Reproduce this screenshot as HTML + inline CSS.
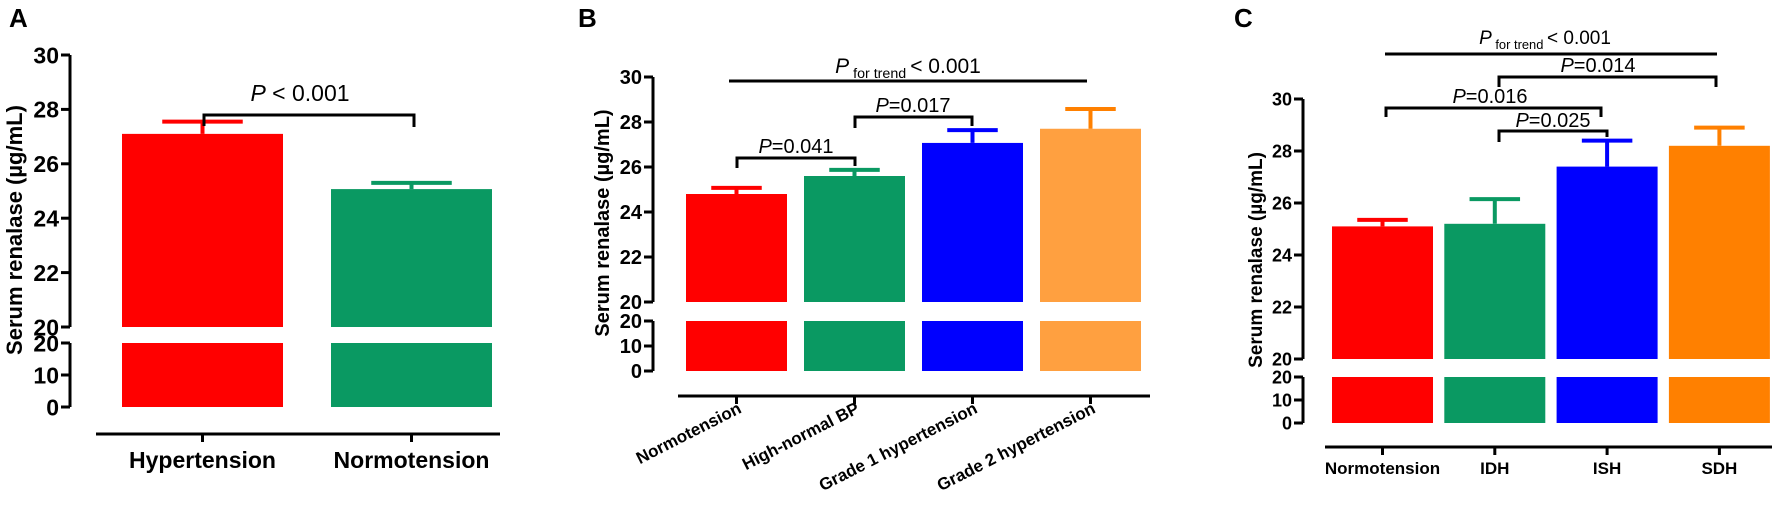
<!DOCTYPE html>
<html><head><meta charset="utf-8">
<style>
html,body{margin:0;padding:0;background:#fff;}
svg{display:block;font-family:"Liberation Sans",Arial,sans-serif;}
</style></head>
<body>
<svg id="fig" width="1772" height="511" viewBox="0 0 1772 511" xmlns="http://www.w3.org/2000/svg"></svg>
<script>
// ---- Panel A data ----
const catsA = ["Hypertension","Normotension"];
const meansA = [27.1, 25.07];
const errsA = [0.45, 0.23];
// ---- Panel B data ----
const catsB = ["Normotension","High-normal BP","Grade 1 hypertension","Grade 2 hypertension"];
const meansB = [24.8, 25.6, 27.07, 27.7];
const errsB = [0.27, 0.27, 0.57, 0.88];
// ---- Panel C data ----
const catsC = ["Normotension","IDH","ISH","SDH"];
const meansC = [25.1, 25.2, 27.4, 28.2];
const errsC = [0.25, 0.95, 1.0, 0.7];
// ---- shared tick labels ----
const upperTicks = [20,22,24,26,28,30];
const lowerTicks = [0,10,20];

const NS = "http://www.w3.org/2000/svg";
const svg = document.getElementById('fig');
function el(tag, attrs, parent){
  const e = document.createElementNS(NS, tag);
  for (const k in attrs) e.setAttribute(k, attrs[k]);
  (parent||svg).appendChild(e);
  return e;
}

function panel(cfg){
  const g = el('g', {});
  
  
  const yU = v => cfg.u20 - (v - 20) * (cfg.u20 - cfg.u30) / 10;
  const yL = v => cfg.l0 - v * (cfg.l0 - cfg.l20) / 20;
  const xC = i => cfg.x0 + cfg.bw / 2 + i * cfg.step;

  const lt = el('text', {x: cfg.letterX, y: 27, 'font-size': 26, 'font-weight': 'bold'}, g);
  lt.textContent = cfg.letter;
  
  

  // y axes
  const ax = el('path', {d: `M${cfg.ax} ${yU(30)} V${yU(20)} M${cfg.ax} ${yL(20)} V${yL(0)}`, stroke: '#000', 'stroke-width': 3, fill: 'none'}, g);
  
  
  upperTicks.forEach(t => {
    el('line', {x1: cfg.ax - 9, x2: cfg.ax, y1: yU(t), y2: yU(t), stroke: '#000', 'stroke-width': 3}, g);
    const tx = el('text', {x: cfg.ax - 11, y: yU(t) + cfg.tfs * 0.36, 'text-anchor': 'end', 'font-size': cfg.tfs, 'font-weight': 'bold'}, g);
    tx.textContent = t;
    
    
  });
  lowerTicks.forEach(t => {
    el('line', {x1: cfg.ax - 9, x2: cfg.ax, y1: yL(t), y2: yL(t), stroke: '#000', 'stroke-width': 3}, g);
    const tx = el('text', {x: cfg.ax - 11, y: yL(t) + cfg.tfs * 0.36, 'text-anchor': 'end', 'font-size': cfg.tfs, 'font-weight': 'bold'}, g);
    tx.textContent = t;
    
    
  });
  const yt = el('text', {x: 0, y: 0, transform: `translate(${cfg.titleX},${cfg.titleY}) rotate(-90)`, 'text-anchor': 'middle', 'font-size': cfg.titleFs, 'font-weight': 'bold'}, g);
  yt.textContent = 'Serum renalase (\u00B5g/mL)';
  
  

  // bars
  cfg.cats.forEach((c, i) => {
    const x = cfg.x0 + i * cfg.step;
    const col = cfg.colors[i];
    const b1 = el('rect', {x: x, y: yU(cfg.means[i]), width: cfg.bw, height: yU(20) - yU(cfg.means[i]), fill: col}, g);
    
    
    const b2 = el('rect', {x: x, y: yL(20), width: cfg.bw, height: yL(0) - yL(20), fill: col}, g);
    
    
    const cx = xC(i), top = yU(cfg.means[i] + cfg.errs[i]);
    const eb = el('path', {d: `M${cx} ${yU(cfg.means[i])} V${top} M${cx - cfg.bw / 4} ${top} H${cx + cfg.bw / 4}`, stroke: cfg.ecolors[i], 'stroke-width': 4, fill: 'none'}, g);
    
    
    el('line', {x1: cx, x2: cx, y1: cfg.xaxY, y2: cfg.xaxY + 8, stroke: '#000', 'stroke-width': 3}, g);
    let lab;
    if (cfg.rot) {
      lab = el('text', {x: 0, y: 0, transform: `translate(${cx + 6},${cfg.xaxY + 16}) rotate(${cfg.rot})`, 'text-anchor': 'end', 'font-size': cfg.xfs, 'font-weight': 'bold'}, g);
    } else {
      lab = el('text', {x: cx, y: cfg.xlabY, 'text-anchor': 'middle', 'font-size': cfg.xfs, 'font-weight': 'bold'}, g);
    }
    lab.textContent = c;
    
    
  });
  const xa = el('line', {x1: cfg.xaxStart, x2: cfg.xaxEnd, y1: cfg.xaxY, y2: cfg.xaxY, stroke: '#000', 'stroke-width': 3}, g);
  
  
  return {g, yU, xC};
}

function bracket(g, x1, x2, y, l1, l2, label, tx, ty){
  const p = el('path', {d: `M${x1} ${l1} V${y} H${x2} V${l2}`, stroke: '#000', 'stroke-width': 3, fill: 'none'}, g);
  
  
  const t = el('text', {x: tx, y: ty, 'text-anchor': 'middle', 'font-size': 20}, g);
  t.innerHTML = '<tspan font-style="italic">P</tspan>' + label;
  
  
}
function trend(g, x1, x2, y, tx, ty, fs){
  const l = el('line', {x1: x1, x2: x2, y1: y, y2: y, stroke: '#000', 'stroke-width': 3}, g);
  
  
  const t = el('text', {x: tx, y: ty, 'text-anchor': 'middle', 'font-size': fs}, g);
  t.innerHTML = '<tspan font-style="italic">P</tspan><tspan font-size="' + (fs * 0.68) + '" dy="5"> for trend </tspan><tspan dy="-5">&lt; 0.001</tspan>';
  
  
}

// Panel A
const A = panel({letter: 'A', letterX: 9, cats: catsA, means: meansA, errs: errsA,
  colors: ['#ff0000', '#0a9962'], ecolors: ['#ff0000', '#0a9962'],
  ax: 70, u30: 55, u20: 327, l20: 343, l0: 407, x0: 122, bw: 161, step: 209,
  xaxY: 434, xaxStart: 96, xaxEnd: 500, xlabY: 468, xfs: 23, tfs: 23,
  titleX: 22, titleY: 230, titleFs: 22});
{
  const p = el('path', {d: 'M204 126 V115 H414 V127', stroke: '#000', 'stroke-width': 3, fill: 'none'}, A.g);
  
  
  const t = el('text', {x: 300, y: 101, 'text-anchor': 'middle', 'font-size': 23}, A.g);
  t.innerHTML = '<tspan font-style="italic">P</tspan> &lt; 0.001';
  
  
}

// Panel B
const B = panel({letter: 'B', letterX: 578, cats: catsB, means: meansB, errs: errsB,
  colors: ['#ff0000', '#0a9962', '#0000ff', '#ffa040'], ecolors: ['#ff0000', '#0a9962', '#0000ff', '#ff8000'],
  ax: 653, u30: 77, u20: 302, l20: 321, l0: 371, x0: 686, bw: 101, step: 118,
  xaxY: 396, xaxStart: 678, xaxEnd: 1150, rot: -27, xfs: 17, tfs: 20,
  titleX: 609, titleY: 223, titleFs: 20});
bracket(B.g, 737, 855, 158, 168, 166, '=0.041', 796, 153);
bracket(B.g, 855, 972, 117, 128, 126, '=0.017', 913, 112);
trend(B.g, 729, 1087, 81, 908, 73, 21);

// Panel C
const C = panel({letter: 'C', letterX: 1234, cats: catsC, means: meansC, errs: errsC,
  colors: ['#ff0000', '#0a9962', '#0000ff', '#ff8000'], ecolors: ['#ff0000', '#0a9962', '#0000ff', '#ff8000'],
  ax: 1303, u30: 99, u20: 359, l20: 377, l0: 423, x0: 1332, bw: 101, step: 112.3,
  xaxY: 447, xaxStart: 1325, xaxEnd: 1772, xlabY: 474, xfs: 17, tfs: 18,
  titleX: 1262, titleY: 260, titleFs: 19});
trend(C.g, 1385, 1717, 54, 1545, 44, 19);
bracket(C.g, 1499, 1716, 77, 87, 87, '=0.014', 1598, 72);
bracket(C.g, 1386, 1601, 108, 117, 117, '=0.016', 1490, 103);
bracket(C.g, 1499, 1607, 131, 142, 137, '=0.025', 1553, 127);
</script>
</body></html>
